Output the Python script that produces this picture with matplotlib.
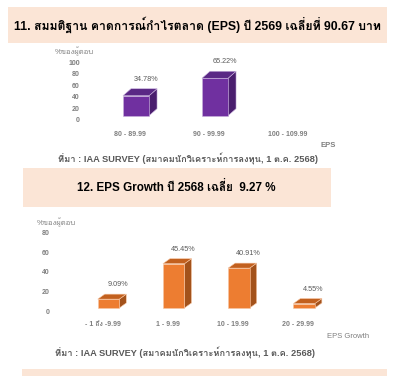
import matplotlib
matplotlib.use("Agg")
import matplotlib.pyplot as plt
from matplotlib.patches import Rectangle, Polygon
from matplotlib.transforms import blended_transform_factory

# ข้อมูลกราฟที่ 11
eps_cats = ["80 - 89.99", "90 - 99.99", "100 - 109.99"]
eps_vals = [34.78, 65.22, 0.0]
eps_ticks = [0, 20, 40, 60, 80, 100]

# ข้อมูลกราฟที่ 12
gr_cats = ["- 1 ถึง -9.99", "1 - 9.99", "10 - 19.99", "20 - 29.99"]
gr_vals = [9.09, 45.45, 40.91, 4.55]
gr_ticks = [0, 20, 40, 60, 80]

title1 = "11. สมมติฐาน คาดการณ์กำไรตลาด (EPS) ปี 2569 เฉลี่ยที่ 90.67 บาท"
title2 = "12. EPS Growth ปี 2568 เฉลี่ย  9.27 %"
source = "ที่มา : IAA SURVEY (สมาคมนักวิเคราะห์การลงทุน, 1 ต.ค. 2568)"
ylab = "%ของผู้ตอบ"

FONT = ["Liberation Sans", "Loma", "DejaVu Sans"]
plt.rcParams["font.family"] = FONT

W, H = 395, 376
fig = plt.figure(figsize=(W / 100, H / 100), dpi=100)


def fx(px):
    return px / W


def fy(py):
    return 1 - py / H


def band(x0, y0, x1, y1):
    fig.patches.append(Rectangle((fx(x0), fy(y1)), fx(x1 - x0), (y1 - y0) / H,
                                 transform=fig.transFigure, color="#FBE5D6",
                                 zorder=0, lw=0))


def make_axes(box, c0, step, zero, scale):
    # box = (left, top, right, bottom) px ; c0 = px ของหมวดแรก ; zero = px ของค่า 0
    l, t, r, b = box
    ax = fig.add_axes([fx(l), fy(b), (r - l) / W, (b - t) / H])
    ax.set_xlim((l - c0) / step, (r - c0) / step)
    ax.set_ylim(-(b - zero) / scale, (zero - t) / scale)
    ax.axis("off")
    return ax


def bar3d(ax, x, v, w, dx, dy, cols):
    front, top, side, edge = cols
    x0, x1 = x - w / 2, x + w / 2
    ax.add_patch(Polygon([(x1, 0), (x1 + dx, dy), (x1 + dx, v + dy), (x1, v)],
                         closed=True, fc=side, ec=edge, lw=0.4))
    ax.add_patch(Polygon([(x0, v), (x1, v), (x1 + dx, v + dy), (x0 + dx, v + dy)],
                         closed=True, fc=top, ec=edge, lw=0.4))
    ax.add_patch(Rectangle((x0, 0), w, v, fc=front, ec=edge, lw=0.4))


def chart(ax, cats, vals, ticks, step, scale, dpx, dpy, tick_x, tick_off,
          lab_dy, cols):
    dx = dpx / step
    dy = dpy / scale
    for i, (c, v) in enumerate(zip(cats, vals)):
        if v > 0:
            bar3d(ax, i, v, 0.33, dx, dy, cols)
            ax.annotate(f"{v:.2f}%", xy=(i + dx, v + dy), xytext=(2, 6),
                        textcoords="offset pixels", ha="center", va="bottom",
                        fontsize=5.2, color="#595959")
        ax.annotate(c, xy=(i, 0), xytext=(-6, -lab_dy), textcoords="offset pixels",
                    ha="center", va="center", fontsize=5, color="#7F7F7F",
                    fontweight="bold")
    tr = blended_transform_factory(fig.transFigure, ax.transData)
    for t in ticks:
        ax.annotate(str(t), xy=(fx(tick_x), t), xycoords=tr, xytext=(0, -tick_off),
                    textcoords="offset pixels", ha="right", va="center",
                    fontsize=5, color="#7F7F7F", fontweight="bold")


# แถบหัวเรื่อง
band(8, 7, 387, 43)
band(23, 168, 331, 207)
band(22, 369, 387, 376)

fig.text(fx(197), fy(25), title1, ha="center", va="center", fontsize=8.8,
         fontweight="bold", color="black")
fig.text(fx(176), fy(187), title2, ha="center", va="center", fontsize=8.4,
         fontweight="bold", color="black")

# กราฟที่ 11
ax1 = make_axes((56, 50, 376, 150), 136, 79, 115.7, 0.574)
chart(ax1, eps_cats, eps_vals, eps_ticks, 79, 0.574, 8, 7, 80, 5, 19,
      ("#7030A0", "#5A2885", "#4A1E6E", "#C9B3DD"))
fig.text(fx(55), fy(52), ylab, ha="left", va="center", fontsize=5.5, color="#808080")
fig.text(fx(328), fy(145), "EPS", ha="center", va="center", fontsize=5.5,
         color="#7F7F7F", fontweight="bold")
fig.text(fx(188), fy(159), source, ha="center", va="center", fontsize=6.7,
         color="#595959", fontweight="bold")

# กราฟที่ 12
ax2 = make_axes((30, 225, 380, 345), 108.5, 65.2, 308, 0.975)
chart(ax2, gr_cats, gr_vals, gr_ticks, 65.2, 0.975, 7, 5, 50, 4, 17,
      ("#ED7D31", "#C2601E", "#A3521B", "#F6C7A6"))
fig.text(fx(37), fy(223), ylab, ha="left", va="center", fontsize=5.5, color="#808080")
fig.text(fx(348), fy(336), "EPS Growth", ha="center", va="center", fontsize=5.5,
         color="#7F7F7F")
fig.text(fx(185), fy(353), source, ha="center", va="center", fontsize=6.7,
         color="#595959", fontweight="bold")

fig.savefig("out.png", dpi=100, facecolor="white")
